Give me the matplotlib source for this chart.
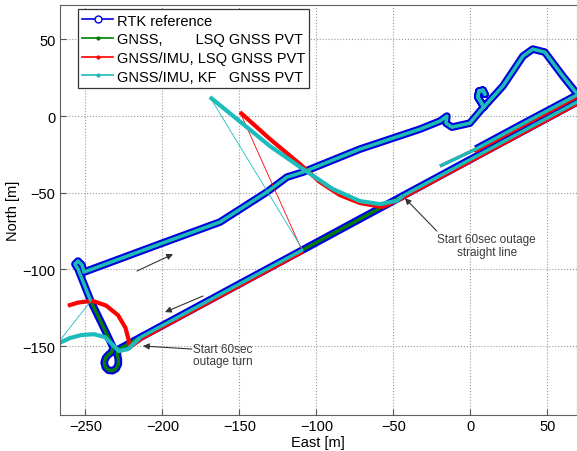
import matplotlib
matplotlib.use("Agg")
import matplotlib.pyplot as plt
from matplotlib.lines import Line2D

plt.rcParams["font.family"] = ["Liberation Sans", "DejaVu Sans"]

# RTK reference track [m], split at the two 60 s outages
# a: start -> turnaround (off plot, east) -> south-west on the straight
rtk_a_east = [3.6, 36.0, 69.2, 80.0, 84.5, 85.0, 80.0, 69.2, 10.0, -43.8]
rtk_a_north = [-21.5, -4.0, 13.7, 19.3, 18.0, 13.5, 11.0, 9.1, -22.9, -52.0]
# b: outage 1 (straight line)
rtk_b_east = [-43.8, -76.0, -108.8]
rtk_b_north = [-52.0, -69.4, -87.2]
# c: straight down to the turn
rtk_c_east = [-108.8, -160.0, -214.5]
rtk_c_north = [-87.2, -114.9, -144.4]
# d: outage 2 (turn), loop and up the west side
rtk_d_east = [-214.5, -229.0, -229.3, -228.6, -228.6, -230.0, -232.4, -235.0,
              -237.0, -237.8, -237.0, -235.0, -232.8, -232.1, -239.5, -246.5]
rtk_d_north = [-144.4, -152.3, -155.5, -158.5, -161.8, -164.6, -166.0, -165.7,
               -163.8, -160.8, -157.8, -155.5, -153.8, -150.6, -135.0, -120.6]
# e: north-east along the upper road, hump, and out to the east
rtk_e_east = [-246.5, -254.8, -256.8, -254.8, -252.2, -250.9, -201.6, -162.6,
              -132.1, -119.1, -108.6, -71.6, -32.7, -19.8, -15.2, -15.8, -11.9,
              -0.3, 7.5, 8.8, 4.9, 5.6, 8.2, 9.5, 8.2, 5.6, 4.9, 8.8, 21.2,
              34.2, 40.6, 48.4, 60.1, 67.9, 77.6]
rtk_e_north = [-120.6, -99.7, -96.5, -94.5, -97.1, -101.7, -83.4, -69.1,
               -49.5, -39.8, -36.5, -21.5, -8.5, -3.3, 0.0, -4.6, -7.2,
               -4.6, 4.6, 5.9, 12.4, 16.3, 16.9, 14.3, 16.9, 16.3, 12.4, 5.9, 19.6,
               39.1, 43.7, 41.7, 26.1, 16.3, 7.8]

# estimates before the RTK log begins
pre_east = [-19.7, 3.6]
pre_north = [-32.6, -21.5]

# GNSS/IMU LSQ, slightly south of the reference on the straights
red_a_east = [3.6, 36.0, 69.2, 80.0, 84.5, 85.0, 80.0, 69.2, 10.0, -43.8]
red_a_north = [-23.0, -5.5, 12.2, 17.8, 16.5, 12.0, 9.5, 7.6, -24.4, -53.5]
red_c_east = [-108.8, -160.0, -214.5]
red_c_north = [-88.7, -116.4, -145.9]

# drift during outage 1
red_out1_east = [-43.8, -45.7, -56.8, -71.7, -84.7, -97.7, -110.6, -130.1, -149.6]
red_out1_north = [-53.5, -54.1, -59.3, -56.7, -51.5, -43.0, -31.3, -15.0, 2.6]
cyan_out1_east = [-43.8, -47.7, -58.7, -71.7, -89.2, -110.6, -130.1, -151.5, -169.1]
cyan_out1_north = [-52.0, -55.2, -57.4, -55.4, -47.6, -33.2, -19.6, -2.0, 12.4]

# drift during outage 2
red_out2_east = [-214.5, -219.5, -221.6, -222.0, -224.0, -228.8, -236.6, -245.7,
                 -254.8, -261.3]
red_out2_north = [-145.9, -149.5, -151.2, -145.5, -138.0, -129.8, -123.5, -120.4,
                  -121.6, -123.6]
cyan_out2_east = [-214.5, -222.3, -228.2, -232.1, -237.3, -244.4, -252.9, -260.0, -268.4]
cyan_out2_north = [-144.4, -151.9, -153.2, -149.3, -144.1, -142.2, -142.8, -144.7, -148.6]

x_ticks = [-250, -200, -150, -100, -50, 0, 50]
y_ticks = [-150, -100, -50, 0, 50]

c_rtk = "#0000e6"
c_gnss = "#008000"
c_lsq = "#ff0000"
c_kf = "#1cbcbc"

fig = plt.figure(figsize=(5.77, 4.52), dpi=100)
ax = fig.add_axes([0.1033, 0.0796, 0.8967, 0.907])

rtk_east = rtk_a_east + rtk_b_east + rtk_c_east + rtk_d_east + rtk_e_east
rtk_north = rtk_a_north + rtk_b_north + rtk_c_north + rtk_d_north + rtk_e_north

thick = dict(solid_capstyle="butt", solid_joinstyle="round")
ax.plot(rtk_east, rtk_north, color=c_rtk, lw=5.5, **thick)
ax.plot(rtk_east, rtk_north, color=c_gnss, lw=2.4, **thick)

# GNSS/IMU LSQ
ax.plot(pre_east + red_a_east, pre_north + red_a_north, color=c_lsq, lw=2.2, **thick)
ax.plot(red_out1_east, red_out1_north, color=c_lsq, lw=3.0, **thick)
ax.plot([red_out1_east[-1], red_c_east[0]], [red_out1_north[-1], red_c_north[0]],
        color=c_lsq, lw=0.6)
ax.plot(red_c_east, red_c_north, color=c_lsq, lw=2.2, **thick)
ax.plot(red_out2_east, red_out2_north, color=c_lsq, lw=3.0, **thick)
ax.plot([red_out2_east[-1], rtk_e_east[0]], [red_out2_north[-1], rtk_e_north[0]],
        color=c_lsq, lw=0.6)

# GNSS/IMU KF
ax.plot(pre_east + rtk_a_east, pre_north + rtk_a_north, color=c_kf, lw=2.4, **thick)
ax.plot(cyan_out1_east, cyan_out1_north, color=c_kf, lw=3.0, **thick)
ax.plot([cyan_out1_east[-1], rtk_c_east[0]], [cyan_out1_north[-1], rtk_c_north[0]],
        color=c_kf, lw=0.6)
ax.plot(rtk_c_east, rtk_c_north, color=c_kf, lw=2.4, **thick)
ax.plot(cyan_out2_east, cyan_out2_north, color=c_kf, lw=3.0, **thick)
ax.plot([cyan_out2_east[-1], rtk_e_east[0]], [cyan_out2_north[-1], rtk_e_north[0]],
        color=c_kf, lw=0.6)
ax.plot(rtk_e_east, rtk_e_north, color=c_kf, lw=2.4, **thick)

# annotations
note_kw = dict(fontsize=8.5, color="#3a3a3a", linespacing=1.05)
arrow_kw = dict(arrowstyle="-|>", color="#333333", lw=0.8, mutation_scale=9,
                shrinkA=0, shrinkB=0)
ax.annotate("", xy=(-42.5, -53.5), xytext=(-21.7, -75.0), arrowprops=arrow_kw)
ax.text(10.7, -84.4, "Start 60sec outage\nstraight line", ha="center", va="center",
        **note_kw)
ax.annotate("", xy=(-212.6, -149.9), xytext=(-180.8, -151.9), arrowprops=arrow_kw)
ax.text(-180.1, -155.8, "Start 60sec\noutage turn", ha="left", va="center", **note_kw)
# driving direction
ax.annotate("", xy=(-193.1, -90.0), xytext=(-216.5, -101.0), arrowprops=arrow_kw)
ax.annotate("", xy=(-198.3, -127.8), xytext=(-173.6, -117.3), arrowprops=arrow_kw)

ax.set_xlim(-266.75, 69.3)
ax.set_ylim(-194.9, 72.4)
ax.set_xticks(x_ticks)
ax.set_yticks(y_ticks)
ax.grid(True, linestyle=":", color="#9a9a9a", lw=0.8)
ax.tick_params(direction="in", length=4, labelsize=10.5, color="#555555", pad=3)
for s in ax.spines.values():
    s.set_color("#606060")
ax.set_xlabel("East [m]", fontsize=10.5, labelpad=1)
ax.set_ylabel("North [m]", fontsize=10.5, labelpad=2)

handles = [
    Line2D([], [], color=c_rtk, lw=1.2, marker="o", markersize=5,
           markerfacecolor="white", markeredgecolor=c_rtk, markevery=[1]),
    Line2D([], [], color=c_gnss, lw=1.2, marker=".", markersize=4, markevery=[1]),
    Line2D([], [], color=c_lsq, lw=1.2, marker=".", markersize=4, markevery=[1]),
    Line2D([], [], color=c_kf, lw=1.2, marker=".", markersize=4, markevery=[1]),
]
for h in handles:
    h.set_data([0, 1, 2], [0, 0, 0])
labels = ["RTK reference", "GNSS,        LSQ GNSS PVT", "GNSS/IMU, LSQ GNSS PVT",
          "GNSS/IMU, KF   GNSS PVT"]
leg = ax.legend(handles, labels, loc="upper left", bbox_to_anchor=(0.0355, 0.99),
                borderaxespad=0, fontsize=10.5, handlelength=2.1, handletextpad=0.25,
                labelspacing=0.32, borderpad=0.3, fancybox=False, framealpha=1)
leg.get_frame().set_edgecolor("#333333")
leg.get_frame().set_linewidth(0.9)

fig.savefig("out.png", dpi=100)
